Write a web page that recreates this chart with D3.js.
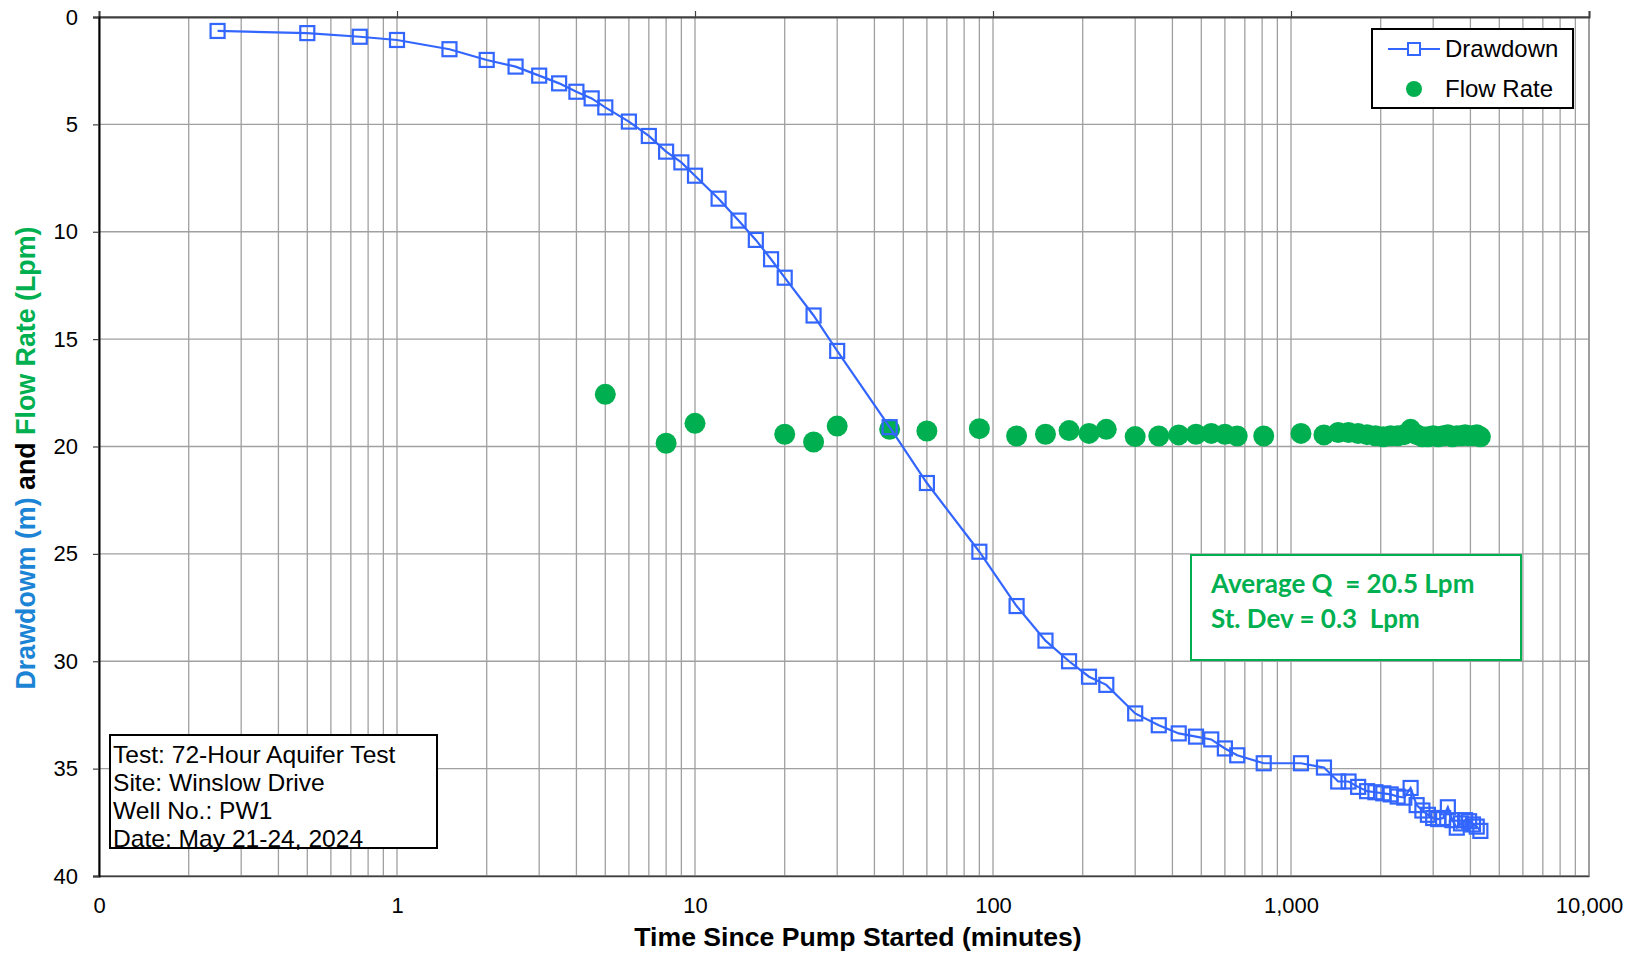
<!DOCTYPE html>
<html>
<head>
<meta charset="utf-8">
<script src="https://cdn.jsdelivr.net/npm/d3@7"></script>
<style>
  html, body { margin: 0; padding: 0; background: #fff; }
  svg { display: block; font-family: "Liberation Sans", Arial, sans-serif; }
  .pre { white-space: pre; }
</style>
</head>
<body>
<svg id="chart" width="1639" height="954"></svg>
<script>
// Elapsed time (minutes) and drawdown (m) for the pumping well
const ddTime = [0.25, 0.5, 0.75, 1, 1.5, 2, 2.5, 3, 3.5, 4, 4.5, 5, 6, 7, 8, 9, 10,
  12, 14, 16, 18, 20, 25, 30, 45, 60, 90, 120, 150, 180, 210, 240, 300, 360, 420,
  480, 540, 600, 660, 810, 1080, 1290,
  1440, 1560, 1680, 1800, 1920, 2040, 2160, 2280, 2400, 2520, 2640, 2760, 2880,
  3000, 3120, 3240, 3360, 3480, 3600, 3720, 3840, 3960, 4080, 4200, 4320];
const ddValue = [0.65, 0.75, 0.92, 1.07, 1.5, 2.0, 2.31, 2.73, 3.09, 3.48, 3.79, 4.21,
  4.87, 5.54, 6.27, 6.77, 7.39, 8.46, 9.48, 10.38, 11.28, 12.14, 13.9, 15.55, 19.1,
  21.7, 24.9, 27.43, 29.04, 30.0, 30.72, 31.1, 32.43, 32.98, 33.36, 33.51, 33.64,
  34.06, 34.38, 34.75, 34.75, 34.95,
  35.6, 35.6, 35.85, 36.05, 36.1, 36.15, 36.2, 36.3, 36.35, 35.9, 36.7, 36.95, 37.15,
  37.3, 37.35, 37.3, 36.8, 37.4, 37.75, 37.55, 37.4, 37.45, 37.6, 37.7, 37.9];

// Elapsed time (minutes) and measured flow rate (Lpm)
const flowTime = [5, 8, 10, 20, 25, 30, 45, 60, 90, 120, 150, 180, 210, 240, 300, 360,
  420, 480, 540, 600, 660, 810, 1080, 1290,
  1440, 1560, 1680, 1800, 1920, 2040, 2160, 2280, 2400, 2520, 2640, 2760, 2880,
  3000, 3120, 3240, 3360, 3480, 3600, 3720, 3840, 3960, 4080, 4200, 4320];
const flowValue = [17.57, 19.85, 18.92, 19.43, 19.79, 19.05, 19.2, 19.28, 19.17, 19.51,
  19.43, 19.26, 19.39, 19.2, 19.54, 19.51, 19.46, 19.43, 19.39, 19.43, 19.51, 19.51,
  19.39, 19.46,
  19.35, 19.35, 19.4, 19.45, 19.5, 19.55, 19.5, 19.5, 19.45, 19.2, 19.45, 19.55, 19.55,
  19.5, 19.55, 19.5, 19.45, 19.55, 19.5, 19.5, 19.45, 19.5, 19.5, 19.45, 19.55];

// Axis ticks and labels
const xTickValues = [0.1, 1, 10, 100, 1000, 10000];
const xTickLabels = ["0", "1", "10", "100", "1,000", "10,000"];
const yTickValues = [0, 5, 10, 15, 20, 25, 30, 35, 40];

// Annotation text
const infoLines = ["Test: 72-Hour Aquifer Test", "Site: Winslow Drive", "Well No.: PW1", "Date: May 21-24, 2024"];
const statLines = ["Average Q  = 20.5 Lpm", "St. Dev = 0.3  Lpm"];
const seriesNames = ["Drawdown", "Flow Rate"];

const BLUE = "#3366ff";
const GREEN = "#00b050";
const TITLE_BLUE = "#1b84d4";

const svg = d3.select("#chart");
const plot = { left: 99, right: 1589, top: 17, bottom: 876 };

const x = d3.scaleLog().domain([0.1, 10000]).range([plot.left, plot.right]);
const y = d3.scaleLinear().domain([0, 40]).range([plot.top, plot.bottom]);

// Grid
const grid = svg.append("g").attr("stroke", "#a0a0a0").attr("stroke-width", 1.3);
grid.selectAll("line.v").data(x.ticks()).join("line").attr("class", "v")
  .attr("x1", d => x(d)).attr("x2", d => x(d))
  .attr("y1", plot.top).attr("y2", plot.bottom);
grid.selectAll("line.h").data(yTickValues).join("line").attr("class", "h")
  .attr("x1", plot.left).attr("x2", plot.right)
  .attr("y1", d => y(d)).attr("y2", d => y(d));

// Plot frame
svg.append("rect").attr("x", plot.left).attr("y", plot.top)
  .attr("width", plot.right - plot.left).attr("height", plot.bottom - plot.top)
  .attr("fill", "none").attr("stroke", "#8c8c8c").attr("stroke-width", 1.3);

// Top axis: line with decade ticks
const topAxis = svg.append("g").attr("transform", `translate(0,${plot.top})`)
  .call(d3.axisTop(x).tickValues(xTickValues).tickSize(6).tickFormat(""));
topAxis.select(".domain").attr("stroke", "#404040").attr("stroke-width", 2);
topAxis.selectAll(".tick line").attr("stroke", "#404040").attr("stroke-width", 1.2);

// Bottom axis: labels only
const bottomAxis = svg.append("g").attr("transform", `translate(0,${plot.bottom})`)
  .call(d3.axisBottom(x).tickValues(xTickValues).tickSize(0).tickPadding(21)
    .tickFormat((d, i) => xTickLabels[i]));
bottomAxis.select(".domain").attr("stroke", "#404040").attr("stroke-width", 1.5);
bottomAxis.selectAll("text").attr("font-size", 22).attr("fill", "#000")
  .attr("font-family", "Liberation Sans, Arial, sans-serif");

// Left axis
const leftAxis = svg.append("g").attr("transform", `translate(${plot.left},0)`)
  .call(d3.axisLeft(y).tickValues(yTickValues).tickSize(6).tickPadding(15));
leftAxis.select(".domain").attr("stroke", "#000").attr("stroke-width", 2);
leftAxis.selectAll(".tick line").attr("stroke", "#404040").attr("stroke-width", 1.2);
leftAxis.selectAll("text").attr("font-size", 22).attr("fill", "#000")
  .attr("font-family", "Liberation Sans, Arial, sans-serif");

// Axis titles
svg.append("text")
  .attr("x", 858).attr("y", 946)
  .attr("text-anchor", "middle").attr("font-size", 26.6).attr("font-weight", "bold")
  .text("Time Since Pump Started (minutes)");

const yTitle = svg.append("text")
  .attr("transform", "translate(35,458) rotate(-90)")
  .attr("text-anchor", "middle").attr("font-size", 26.8).attr("font-weight", "bold");
yTitle.append("tspan").attr("fill", TITLE_BLUE).text("Drawdowm (m) ");
yTitle.append("tspan").attr("fill", "#000").text("and ");
yTitle.append("tspan").attr("fill", GREEN).text("Flow Rate (Lpm)");

// Flow rate points
const flow = flowTime.map((t, i) => ({ t, v: flowValue[i] }));
svg.append("g").selectAll("circle").data(flow).join("circle")
  .attr("cx", d => x(d.t)).attr("cy", d => y(d.v)).attr("r", 10.5)
  .attr("fill", GREEN);

// Drawdown line with square markers
const dd = ddTime.map((t, i) => ({ t, v: ddValue[i] }));
svg.append("path").datum(dd)
  .attr("fill", "none").attr("stroke", BLUE).attr("stroke-width", 2.2)
  .attr("d", d3.line().x(d => x(d.t)).y(d => y(d.v)));
const sq = 14;
svg.append("g").selectAll("rect").data(dd).join("rect")
  .attr("x", d => x(d.t) - sq / 2).attr("y", d => y(d.v) - sq / 2)
  .attr("width", sq).attr("height", sq)
  .attr("fill", "none").attr("stroke", BLUE).attr("stroke-width", 2.2);

// Legend
const lg = svg.append("g");
lg.append("rect").attr("x", 1372).attr("y", 29).attr("width", 201).attr("height", 79)
  .attr("fill", "#fff").attr("stroke", "#000").attr("stroke-width", 2);
lg.append("line").attr("x1", 1388).attr("x2", 1440).attr("y1", 49).attr("y2", 49)
  .attr("stroke", BLUE).attr("stroke-width", 2);
lg.append("rect").attr("x", 1408).attr("y", 43).attr("width", 12).attr("height", 12)
  .attr("fill", "#fff").attr("stroke", BLUE).attr("stroke-width", 2);
lg.append("circle").attr("cx", 1414).attr("cy", 89).attr("r", 8).attr("fill", GREEN);
lg.selectAll("text").data(seriesNames).join("text")
  .attr("x", 1445).attr("y", (d, i) => 57 + i * 40)
  .attr("font-size", 24).text(d => d);

// Test information box (text slightly widened)
const info = svg.append("g");
info.append("rect").attr("x", 110).attr("y", 735).attr("width", 327).attr("height", 113)
  .attr("fill", "#fff").attr("stroke", "#000").attr("stroke-width", 2);
info.selectAll("text").data(infoLines).join("text")
  .attr("transform", (d, i) => `translate(113,${763 + i * 28}) scale(1.07,1)`)
  .attr("font-size", 23).text(d => d);

// Flow statistics box
const stats = svg.append("g");
stats.append("rect").attr("x", 1191).attr("y", 555).attr("width", 330).attr("height", 105)
  .attr("fill", "#fff").attr("stroke", GREEN).attr("stroke-width", 2);
stats.selectAll("text").data(statLines).join("text")
  .attr("class", "pre")
  .attr("x", 1211).attr("y", (d, i) => 593 + i * 35)
  .attr("font-family", "Lato, 'Open Sans', sans-serif").attr("font-weight", "bold")
  .attr("font-size", 26).attr("fill", GREEN).text(d => d);
</script>
</body>
</html>
